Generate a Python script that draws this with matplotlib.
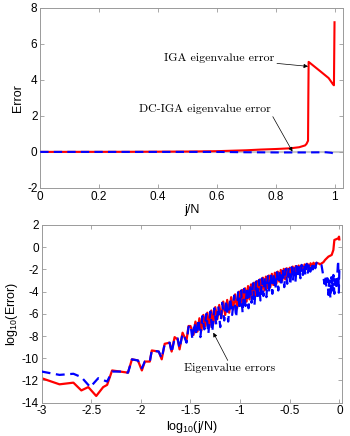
import matplotlib
matplotlib.use("Agg")
import matplotlib.pyplot as plt

plt.rcParams['font.family'] = ['Liberation Sans', 'DejaVu Sans']
plt.rcParams['axes.unicode_minus'] = False
plt.rcParams['mathtext.fontset'] = 'custom'
plt.rcParams['mathtext.rm'] = 'Liberation Sans'

# top panel: error vs j/N
top_red_x = [0, 0.3, 0.5, 0.6, 0.7, 0.75, 0.8, 0.85, 0.88, 0.9, 0.905, 0.91, 0.911, 0.912,
             0.95, 0.98, 0.995, 0.998, 1.0]
top_red_y = [0, 0.005, 0.02, 0.04, 0.09, 0.13, 0.16, 0.2, 0.26, 0.36, 0.45, 0.62, 3.0, 5.0,
             4.5, 4.1, 3.75, 3.7, 7.2]
top_blue_x = [0, 0.6, 0.7, 0.8, 0.9, 0.97, 0.99, 1.0]
top_blue_y = [0, 0.0, -0.02, -0.03, -0.03, -0.02, -0.05, -0.12]

# bottom panel: log10(error) vs log10(j/N)
blue_x = [-3.0, -2.82, -2.68, -2.60, -2.51, -2.43, -2.34, -2.29, -2.21, -2.13, -2.09, -2.03,
          -1.99, -1.96, -1.91, -1.89, -1.82, -1.79, -1.76, -1.71, -1.69, -1.66, -1.63, -1.61,
          -1.58, -1.56, -1.54, -1.52,
          -1.50, -1.48, -1.46, -1.44, -1.42, -1.40, -1.38, -1.36, -1.34, -1.32, -1.30, -1.28,
          -1.26, -1.24, -1.22, -1.20, -1.18, -1.16, -1.14, -1.12, -1.10, -1.08, -1.06, -1.04,
          -1.02, -1.005, -0.99, -0.975, -0.96, -0.945, -0.93, -0.915, -0.90, -0.885, -0.87,
          -0.855, -0.84, -0.825, -0.81, -0.795, -0.78, -0.765, -0.75, -0.735, -0.72, -0.705,
          -0.69, -0.675, -0.66, -0.645, -0.63, -0.615, -0.60, -0.585, -0.57, -0.555, -0.54,
          -0.525, -0.51, -0.495, -0.48, -0.467, -0.455, -0.442, -0.43, -0.417, -0.405, -0.392,
          -0.38, -0.367, -0.355, -0.342, -0.33, -0.317, -0.305, -0.292, -0.28, -0.267, -0.255,
          -0.242, -0.23, -0.215, -0.20,
          -0.18, -0.165, -0.15, -0.14, -0.13, -0.12, -0.11, -0.10, -0.09, -0.08, -0.07, -0.06,
          -0.05, -0.04, -0.03, -0.02, -0.012, -0.005, 0.0]
blue_y = [-11.2, -11.5, -11.4, -11.7, -12.6, -11.8, -12.1, -11.2, -11.2, -11.3, -10.1, -10.2,
          -10.9, -10.3, -10.3, -9.3, -9.4, -10.0, -8.7, -8.6, -9.5, -8.2, -8.2, -9.1,
          -7.8, -8.1, -8.6, -7.2,
          -7.0, -8.3, -6.8, -7.9, -6.5, -8.1, -6.2, -7.4, -6.0, -7.8, -5.8, -7.6,
          -5.5, -7.0, -5.3, -7.2, -5.0, -6.6, -4.8, -6.7, -4.6, -6.1, -4.35, -6.3,
          -4.05, -5.6, -3.9, -5.9, -3.75, -5.3, -3.6, -5.5, -3.4, -5.0, -3.25,
          -5.2, -3.1, -4.7, -2.95, -4.8, -2.8, -4.4, -2.7, -4.5, -2.6, -4.1,
          -2.45, -4.2, -2.35, -3.8, -2.25, -3.9, -2.1, -3.5, -2.0, -3.6, -1.95,
          -3.3, -1.85, -3.4, -1.8, -3.0, -1.75, -3.1, -1.7, -2.7, -1.65, -2.8,
          -1.6, -2.5, -1.55, -2.5, -1.5, -2.3, -1.45, -2.2, -1.45, -2.0, -1.4,
          -1.9, -1.4, -1.6, -1.5,
          -1.6, -2.4, -3.3, -2.6, -3.6, -2.8, -4.3, -3.0, -4.6, -2.7, -3.9, -2.5,
          -4.2, -2.9, -3.6, -2.4, -1.2, -4.1, -2.0]

red_x = [-3.0, -2.82, -2.68, -2.60, -2.53, -2.45, -2.38, -2.34, -2.29, -2.21, -2.13, -2.09,
         -2.03, -1.99, -1.96, -1.91, -1.89, -1.82, -1.79, -1.76, -1.71, -1.69, -1.66, -1.63,
         -1.61, -1.58, -1.56, -1.54, -1.52,
         -1.50, -1.47, -1.45, -1.43, -1.41, -1.39, -1.37, -1.35, -1.33, -1.31, -1.29, -1.27,
         -1.25, -1.23, -1.21, -1.19, -1.17, -1.15, -1.13, -1.11, -1.09, -1.07, -1.05, -1.03,
         -1.01, -0.995, -0.98, -0.965, -0.95, -0.935, -0.92, -0.905, -0.89, -0.875, -0.86,
         -0.845, -0.83, -0.815, -0.80, -0.785, -0.77, -0.755, -0.74, -0.725, -0.71, -0.695,
         -0.68, -0.665, -0.65, -0.635, -0.62, -0.605, -0.59, -0.575, -0.56, -0.545, -0.53,
         -0.515, -0.50, -0.485, -0.47, -0.455, -0.44, -0.425, -0.41, -0.395, -0.38, -0.365,
         -0.35, -0.335, -0.32, -0.305, -0.29, -0.275, -0.26, -0.245, -0.23, -0.20,
         -0.195, -0.16, -0.144, -0.127, -0.11, -0.077, -0.06, -0.05, -0.026, -0.01, -0.003, 0.0]
red_y = [-11.8, -12.35, -12.2, -12.9, -12.6, -13.4, -12.6, -12.4, -11.1, -11.2, -11.3, -10.1,
         -10.2, -11.1, -10.3, -10.3, -9.3, -9.4, -10.1, -8.7, -8.6, -9.4, -8.1, -8.3,
         -9.2, -7.7, -8.1, -8.4, -7.1,
         -7.1, -7.9, -6.7, -7.6, -6.4, -7.5, -6.1, -7.1, -5.9, -7.2, -5.7, -6.9,
         -5.4, -6.5, -5.2, -6.4, -4.9, -6.1, -4.75, -5.9, -4.5, -5.6, -4.25, -5.5,
         -4.0, -5.2, -3.85, -5.1, -3.7, -4.9, -3.5, -4.7, -3.35, -4.6, -3.2,
         -4.4, -3.05, -4.2, -2.9, -4.0, -2.75, -3.9, -2.65, -3.7, -2.55, -3.6,
         -2.4, -3.4, -2.3, -3.3, -2.2, -3.1, -2.05, -3.0, -1.95, -2.9, -1.9,
         -2.7, -1.85, -2.6, -1.75, -2.5, -1.7, -2.3, -1.65, -2.2, -1.6, -2.1,
         -1.55, -2.0, -1.5, -1.9, -1.45, -1.7, -1.4, -1.6, -1.4, -1.5,
         -1.55, -1.35, -1.15, -1.0, -0.85, -0.7, -0.25, 0.65, 0.74, 0.8, 0.95, 0.7]

spine_gray = "#9a9a9a"
note_font = ['cmr10', 'DejaVu Serif']


def style(ax):
    for s in ax.spines.values():
        s.set_color(spine_gray)
        s.set_linewidth(0.7)
    ax.tick_params(direction="in", top=True, right=True, length=3, width=0.6,
                   color=spine_gray, labelsize=8.5, pad=2)


fig = plt.figure(figsize=(3.5, 4.36), dpi=100)

ax1 = fig.add_axes([0.115, 0.569, 0.866, 0.413])
ax1.axhline(0, color="#c8c8c8", lw=1.5, zorder=1)
ax1.plot(top_red_x, top_red_y, color="#ff0000", lw=1.5, zorder=2)
ax1.plot(top_blue_x, top_blue_y, color="#0000ff", lw=1.5, ls=(0, (4, 2.5)), zorder=3)
ax1.set_xlim(0, 1.03)
ax1.set_ylim(-2, 8)
ax1.set_xticks([0, 0.2, 0.4, 0.6, 0.8, 1])
ax1.set_xticklabels(["0", "0.2", "0.4", "0.6", "0.8", "1"])
ax1.set_yticks([-2, 0, 2, 4, 6, 8])
ax1.set_xlabel("j/N", fontsize=9, labelpad=1)
ax1.set_ylabel("Error", fontsize=9, labelpad=2)
style(ax1)
ax1.annotate("IGA eigenvalue error", xy=(0.91, 4.75), xytext=(0.795, 5.22),
             ha="right", va="center", fontsize=8.6, family=note_font,
             arrowprops=dict(arrowstyle="-|>", color="black", lw=0.5,
                             mutation_scale=6, shrinkA=0, shrinkB=0))
ax1.annotate("DC-IGA eigenvalue error", xy=(0.857, 0.02), xytext=(0.785, 2.39),
             ha="right", va="center", fontsize=8.6, family=note_font,
             arrowprops=dict(arrowstyle="-|>", color="black", lw=0.5,
                             mutation_scale=6, shrinkA=0, shrinkB=0,
                             relpos=(1.0, 0.0)))

ax2 = fig.add_axes([0.119, 0.0765, 0.859, 0.4075])
ax2.plot(red_x, red_y, color="#ff0000", lw=1.6, zorder=2)
ax2.plot(blue_x, blue_y, color="#0000ff", lw=1.6, ls=(0, (4, 2.5)), zorder=3)
ax2.set_xlim(-3, 0.03)
ax2.set_ylim(-14, 2)
ax2.set_xticks([-3, -2.5, -2, -1.5, -1, -0.5, 0])
ax2.set_xticklabels(["-3", "-2.5", "-2", "-1.5", "-1", "-0.5", "0"])
ax2.set_yticks(list(range(-14, 3, 2)))
ax2.set_xlabel(r"log$_{10}$(j/N)", fontsize=9, labelpad=1)
ax2.set_ylabel(r"log$_{10}$(Error)", fontsize=9, labelpad=1)
style(ax2)
ax2.annotate("Eigenvalue errors", xy=(-1.27, -7.7), xytext=(-1.11, -10.9),
             ha="center", va="center", fontsize=8.6, family=note_font,
             arrowprops=dict(arrowstyle="-|>", color="black", lw=0.5,
                             mutation_scale=6, shrinkA=0, shrinkB=0,
                             relpos=(0.5, 1.0)))

fig.savefig("out.png", dpi=100)
